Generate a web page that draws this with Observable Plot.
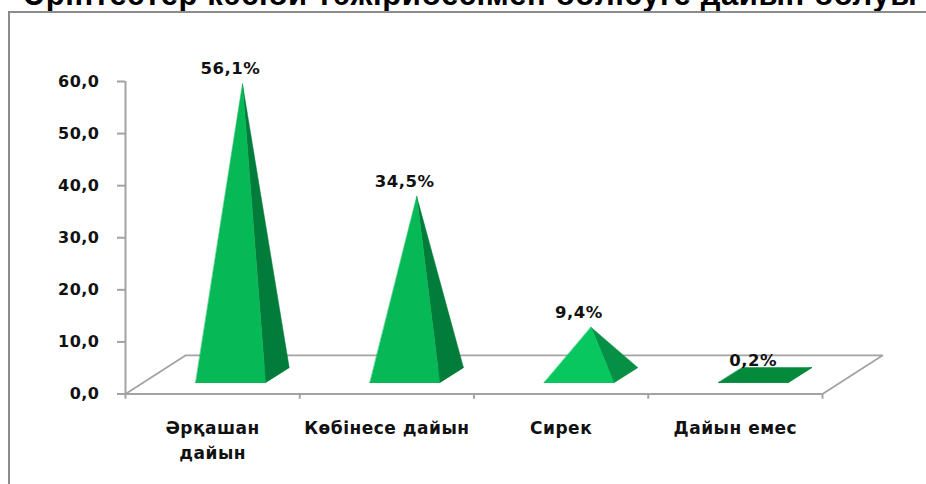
<!DOCTYPE html>
<html>
<head>
<meta charset="utf-8">
<script src="https://cdn.jsdelivr.net/npm/d3@7"></script>
<script src="https://cdn.jsdelivr.net/npm/@observablehq/plot@0.6"></script>
<style>
html,body{margin:0;padding:0;background:#fff;overflow:hidden;width:926px;height:484px;}
#wrap{position:relative;width:926px;height:484px;overflow:hidden;}
#title{position:absolute;left:7px;top:-23px;width:926px;text-align:center;white-space:nowrap;font:bold 31px "Liberation Sans",sans-serif;color:#000;letter-spacing:.6px;}
#frame{position:absolute;left:8px;top:11px;width:930px;height:490px;border:2px solid #8c8c8c;box-sizing:border-box;}
#chart{position:absolute;left:0;top:0;}
#chart svg{background:transparent;}
#chart text{letter-spacing:.5px;}
</style>
</head>
<body>
<div id="wrap">
<div id="title">Әріптестер кәсіби тәжірибесімен бөлісуге дайын болуы</div>
<div id="frame"></div>
<div id="chart"></div>
</div>
<script>
const categories = ["Әрқашан\nдайын", "Көбінесе дайын", "Сирек", "Дайын емес"];
const values = [56.1, 34.5, 9.4, 0.2];
const valueLabels = ["56,1%", "34,5%", "9,4%", "0,2%"];
const yTicks = [0, 10, 20, 30, 40, 50, 60];
const frontColors = ["#06b856", "#06b856", "#07c75e", "#058a3c"];
const sideColors = ["#027c3a", "#027c3a", "#069045", "#058a3c"];

// Projection constants, in scale units: depth of the floor and of a pyramid's base.
const floorDx = 0.344, floorDy = 7.4;
const baseHalf = 0.2, depthDx = 0.068;
const baseCx = 0.6714, frontY = 2.2, backY = 5.08, midY = 3.4;

const faces = [];
values.forEach((v, i) => {
  const cx = i + baseCx;
  const fl = cx - depthDx - baseHalf, fr = cx - depthDx + baseHalf;
  const bl = cx + depthDx - baseHalf, br = cx + depthDx + baseHalf;
  const top = midY + v;
  const push = (id, color, pts) => pts.forEach(([x, y]) => faces.push({id: `${i}-${id}`, color, x, y}));
  push("base", sideColors[i], [[fl, frontY], [fr, frontY], [br, backY], [bl, backY]]);
  push("side", sideColors[i], [[fr, frontY], [br, backY], [cx, top]]);
  push("front", frontColors[i], [[fl, frontY], [fr, frontY], [cx, top]]);
});

const floor = [[0, 0], [floorDx, floorDy], [4 + floorDx, floorDy], [4, 0]].map(([x, y]) => ({x, y}));
const tops = values.map((v, i) => ({x: i + baseCx, y: midY + v, label: valueLabels[i]}));
const font = '"DejaVu Sans",sans-serif';
const gray = "#a3a3a3";

const plot = Plot.plot({
  width: 926, height: 484,
  marginTop: 0, marginBottom: 0, marginLeft: 0, marginRight: 0,
  x: {domain: [0, 4], range: [125, 822], axis: null},
  y: {domain: [0, 60], range: [393.5, 81], axis: null},
  style: {fontFamily: font, background: "transparent", overflow: "visible"},
  marks: [
    Plot.line(floor, {x: "x", y: "y", curve: "linear-closed", stroke: gray, strokeWidth: 1.8}),
    Plot.ruleX([0], {y1: 0, y2: 60, stroke: gray, strokeWidth: 2}),
    Plot.axisY({ticks: yTicks, tickSize: 8, tickPadding: 18, stroke: gray, strokeWidth: 2, label: null, anchor: "left", frameAnchor: "left",
      x: 0,
      tickFormat: d => d3.format(".1f")(d).replace(".", ","),
      fontSize: 16, fontWeight: 600, color: "#111"}),
    Plot.ruleX([0, 1, 2, 3, 4], {x: d => d, y1: 0, y2: -1, stroke: gray, strokeWidth: 2}),
    Plot.line(faces, {x: "x", y: "y", z: "id", fill: "color", stroke: "color", strokeWidth: 0.5, curve: "linear-closed"}),
    Plot.text(tops, {x: "x", y: "y", text: "label", dx: -12, dy: -15, fontSize: 16.5, fontWeight: 600, fill: "#111"}),
    Plot.text(categories, {x: (d, i) => i + 0.5, y: 0, text: d => d, dy: 22, lineHeight: 1.47, lineAnchor: "top", textAnchor: "middle", fontSize: 17, fontWeight: 600, fill: "#111"})
  ]
});
document.getElementById("chart").append(plot);
</script>
</body>
</html>
